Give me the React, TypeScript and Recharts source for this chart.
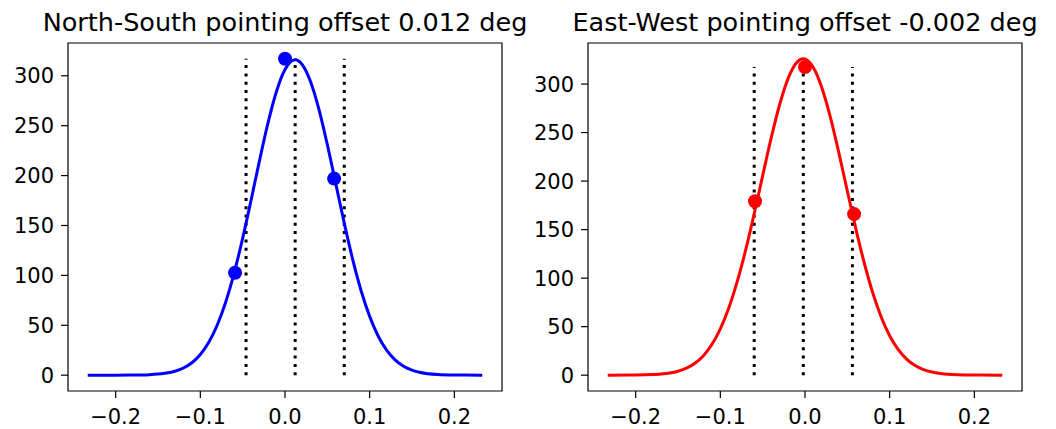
import React from 'react';
import {
  ComposedChart,
  Line,
  Scatter,
  XAxis,
  YAxis,
  ReferenceLine,
  ReferenceArea,
} from 'recharts';

// North-South scan: fitted beam curve, measured points, offset markers
const nsCurveX = [-0.233, -0.2, -0.18, -0.17, -0.16, -0.15, -0.14, -0.13, -0.12, -0.11, -0.1, -0.09, -0.08, -0.07, -0.06, -0.05, -0.04, -0.03, -0.02, -0.01, 0, 0.012, 0.02, 0.03, 0.04, 0.05, 0.06, 0.07, 0.08, 0.09, 0.1, 0.11, 0.12, 0.13, 0.14, 0.15, 0.16, 0.18, 0.2, 0.233];
const nsCurveY = [0, 0, 0.1, 0.2, 0.5, 1.1, 2.1, 4.0, 7.2, 12.5, 20.8, 33.0, 50.3, 73.4, 102.6, 137.2, 175.7, 215.5, 253.0, 284.5, 306.3, 316, 311.6, 294.5, 266.6, 231.0, 191.7, 152.3, 115.8, 84.4, 58.9, 39.3, 25.1, 15.4, 9.0, 5.1, 2.7, 0.7, 0.2, 0];
const nsPointX = [-0.059, 0, 0.058];
const nsPointY = [102.7, 317, 197];
const nsMarkers = [-0.046, 0.012, 0.07];
const nsMarkerTop = 317;

// East-West scan
const ewCurveX = [-0.233, -0.2, -0.18, -0.16, -0.15, -0.14, -0.13, -0.12, -0.11, -0.1, -0.09, -0.08, -0.07, -0.06, -0.05, -0.04, -0.03, -0.02, -0.01, -0.002, 0.01, 0.02, 0.03, 0.04, 0.05, 0.06, 0.07, 0.08, 0.09, 0.1, 0.11, 0.12, 0.13, 0.14, 0.15, 0.16, 0.18, 0.2, 0.233];
const ewCurveY = [0, 0.1, 0.6, 2.2, 4.1, 7.2, 12.3, 20.1, 31.6, 47.8, 69.3, 96.6, 129.3, 166.4, 205.6, 244.2, 278.7, 305.6, 321.9, 326, 316.7, 295.9, 265.6, 229.1, 189.8, 151.1, 115.6, 85.0, 60.0, 40.7, 26.5, 16.6, 10.0, 5.8, 3.2, 1.7, 0.4, 0.1, 0];
const ewPointX = [-0.059, 0, 0.058];
const ewPointY = [179.3, 317.5, 166];
const ewMarkers = [-0.06, -0.002, 0.056];
const ewMarkerTop = 317.5;

const xTicks = [-0.2, -0.1, 0, 0.1, 0.2];
const yTicks = [0, 50, 100, 150, 200, 250, 300];

const FONT = 'DejaVu Sans';

const fmtX = (v: number) => v.toFixed(1).replace('-', '\u2212');

// matplotlib-style 5% margins around the data
const padded = (vals: number[]): [number, number] => {
  const lo = Math.min(...vals);
  const hi = Math.max(...vals);
  const p = (hi - lo) * 0.05;
  return [lo - p, hi + p];
};

type PanelProps = {
  curveX: number[];
  curveY: number[];
  pointX: number[];
  pointY: number[];
  markers: number[];
  markerTop: number;
  color: string;
  left: number;
  yAxisWidth: number;
  rightMargin: number;
};

const Panel = ({ curveX, curveY, pointX, pointY, markers, markerTop, color, left, yAxisWidth, rightMargin }: PanelProps) => {
  const curve = curveX.map((x, i) => ({ x, y: curveY[i] }));
  const points = pointX.map((x, i) => ({ x, y: pointY[i] }));
  const xDom = padded([...curveX, ...pointX]);
  const yDom = padded([...curveY, ...pointY, 0]);
  const tickStyle = { fill: '#000', fontSize: 21, fontFamily: FONT };

  return (
    <div style={{ position: 'absolute', left, top: 0 }}>
      <ComposedChart width={528} height={429} data={curve} margin={{ top: 43, right: rightMargin, bottom: 8, left: 0 }}>
        <XAxis
          type="number"
          dataKey="x"
          domain={xDom}
          ticks={xTicks}
          tickFormatter={fmtX}
          allowDataOverflow
          height={30}
          tickSize={7}
          tickMargin={11}
          axisLine={false}
          tickLine={{ stroke: '#000', strokeWidth: 1.2 }}
          tick={tickStyle}
        />
        <YAxis
          type="number"
          domain={yDom}
          ticks={yTicks}
          allowDataOverflow
          width={yAxisWidth}
          tickSize={7}
          tickMargin={7}
          axisLine={false}
          tickLine={{ stroke: '#000', strokeWidth: 1.2 }}
          tick={tickStyle}
        />
        <ReferenceArea
          x1={xDom[0]}
          x2={xDom[1]}
          y1={yDom[0]}
          y2={yDom[1]}
          fill="none"
          fillOpacity={0}
          stroke="#000"
          strokeWidth={1.2}
          ifOverflow="visible"
        />
        {markers.map((m) => (
          <ReferenceLine
            key={m}
            segment={[{ x: m, y: 0 }, { x: m, y: markerTop }]}
            stroke="#000"
            strokeWidth={3}
            strokeDasharray="3 5.3"
            ifOverflow="visible"
          />
        ))}
        <Line
          dataKey="y"
          type="monotone"
          stroke={color}
          strokeWidth={3}
          dot={false}
          activeDot={false}
          isAnimationActive={false}
        />
        <Scatter
          data={points}
          dataKey="y"
          fill={color}
          isAnimationActive={false}
          shape={(p: any) => <circle cx={p.cx} cy={p.cy} r={7} fill={color} />}
        />
      </ComposedChart>
    </div>
  );
};

export default function App() {
  return (
    <div style={{ position: 'absolute', left: 0, top: 0, width: 1056, height: 429, background: '#fff' }}>
      <Panel
        curveX={nsCurveX}
        curveY={nsCurveY}
        pointX={nsPointX}
        pointY={nsPointY}
        markers={nsMarkers}
        markerTop={nsMarkerTop}
        color="#0000ff"
        left={0}
        yAxisWidth={68}
        rightMargin={26}
      />
      <Panel
        curveX={ewCurveX}
        curveY={ewCurveY}
        pointX={ewPointX}
        pointY={ewPointY}
        markers={ewMarkers}
        markerTop={ewMarkerTop}
        color="#ff0000"
        left={528}
        yAxisWidth={60}
        rightMargin={34}
      />
      <svg width={1056} height={429} style={{ position: 'absolute', left: 0, top: 0, pointerEvents: 'none' }}>
        <text x={285} y={31} textAnchor="middle" fontSize={25.5} fontFamily={FONT} fill="#000">
          North-South pointing offset 0.012 deg
        </text>
        <text x={805} y={31} textAnchor="middle" fontSize={25.5} fontFamily={FONT} fill="#000">
          East-West pointing offset -0.002 deg
        </text>
      </svg>
    </div>
  );
}
